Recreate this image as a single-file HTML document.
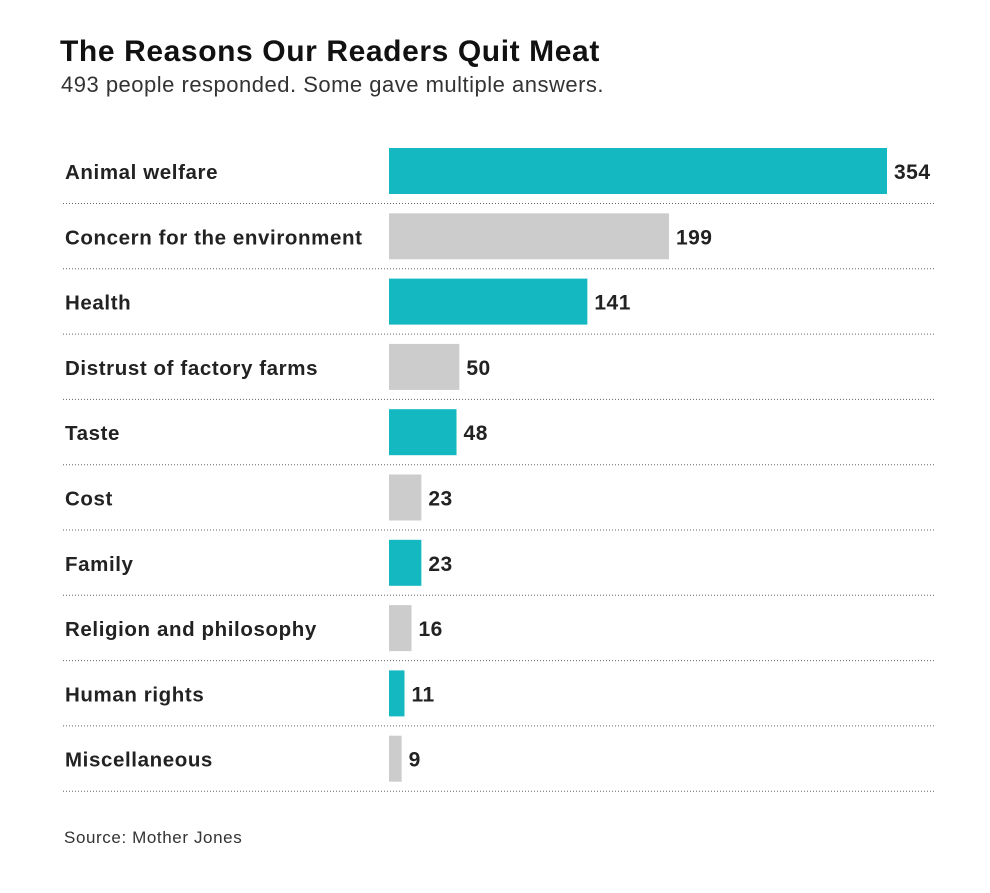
<!DOCTYPE html>
<html><head><meta charset="utf-8"><style>
body{margin:0;background:#fff;font-family:"Liberation Sans",sans-serif;color:#222}
#wrap{position:relative;width:990px;height:893px}
</style></head><body>
<div id="wrap">
<div style="position:absolute;left:60px;top:35px;font-size:30px;font-weight:bold;color:#111;letter-spacing:0.6px">The Reasons Our Readers Quit Meat</div>
<div style="position:absolute;left:61px;top:72px;font-size:22px;color:#333;letter-spacing:0.5px">493 people responded. Some gave multiple answers.</div>
<svg id="chart" width="990" height="893" style="position:absolute;left:0;top:0"></svg>
<div style="position:absolute;left:64px;top:828px;font-size:17px;color:#333;letter-spacing:0.6px">Source: Mother Jones</div>
</div>
<script>
const categories=["Animal welfare","Concern for the environment","Health","Distrust of factory farms","Taste","Cost","Family","Religion and philosophy","Human rights","Miscellaneous"];
const values=[354,199,141,50,48,23,23,16,11,9];
const colors=["#14b8c1","#cccccc"];
const svg=document.getElementById('chart');
const NS="http://www.w3.org/2000/svg";
const x0=389,scale=498/354;
function xs(v){return x0+v*scale;}
function ys(i){return 172+i*65.3;}
categories.forEach((c,i)=>{
  const cy=ys(i);
  const r=document.createElementNS(NS,'rect');
  
  
  r.setAttribute('x',x0);r.setAttribute('y',cy-24);
  r.setAttribute('width',xs(values[i])-x0);r.setAttribute('height',46);
  r.setAttribute('fill',colors[i%2]);svg.appendChild(r);
  const t=document.createElementNS(NS,'text');
  
  
  t.setAttribute('x',65);t.setAttribute('y',cy+7);
  t.setAttribute('font-size','20.5');t.setAttribute('font-weight','bold');t.setAttribute('letter-spacing','0.6');t.setAttribute('fill','#222');t.setAttribute('font-family','Liberation Sans, sans-serif');
  t.textContent=c;svg.appendChild(t);
  const v=document.createElementNS(NS,'text');
  
  
  v.setAttribute('x',xs(values[i])+7);v.setAttribute('y',cy+7);
  v.setAttribute('font-size','21');v.setAttribute('font-weight','bold');v.setAttribute('letter-spacing','0.5');v.setAttribute('fill','#222');v.setAttribute('font-family','Liberation Sans, sans-serif');
  v.textContent=values[i];svg.appendChild(v);
  const l=document.createElementNS(NS,'line');
  
  
  l.setAttribute('x1',63);l.setAttribute('x2',935);
  l.setAttribute('y1',cy+31.5);l.setAttribute('y2',cy+31.5);
  l.setAttribute('stroke','#666');l.setAttribute('stroke-width','1');l.setAttribute('stroke-dasharray','1 2');
  svg.appendChild(l);
});
</script>
</body></html>
